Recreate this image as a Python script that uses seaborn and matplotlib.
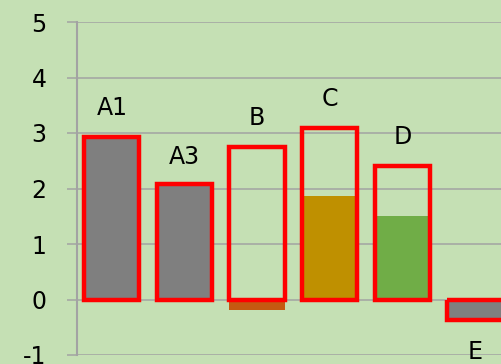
import matplotlib
matplotlib.use("Agg")
import matplotlib.pyplot as plt
import seaborn as sns

# bar data
categories = ['A1', 'A3', 'B', 'C', 'D', 'E']
outline_values = [2.93, 2.08, 2.75, 3.09, 2.40, -0.37]   # red outlined boxes
fill_values = [2.93, 2.08, -0.19, 1.87, 1.50, -0.37]     # inner filled bars
fill_colors = ['#7F7F7F', '#7F7F7F', '#C55A11', '#BF9000', '#70AD47', '#7F7F7F']
label_y = [3.45, 2.57, 3.27, 3.61, 2.93, -0.95]

bg = '#C5E0B4'
grid_col = '#A3A3A3'

sns.set_style("white")
plt.rcParams['font.family'] = ['DejaVu Sans']
plt.rcParams['axes.unicode_minus'] = False

fig = plt.figure(figsize=(5.01, 3.64), dpi=100, facecolor=bg)
ax = fig.add_axes([77 / 501, 9 / 364, 1 - 77 / 501, 333 / 364])
ax.set_facecolor(bg)

# filled bars first, outline on top
sns.barplot(x=categories, y=fill_values, hue=categories, palette=fill_colors,
            legend=False, width=0.76, saturation=1, linewidth=0, ax=ax, zorder=2)
sns.barplot(x=categories, y=outline_values, color='#FF0000', fill=False,
            width=0.76, linewidth=3.2, ax=ax, zorder=3)

for i, (cat, ly) in enumerate(zip(categories, label_y)):
    ax.text(i, ly, cat, ha='center', va='center', fontsize=17, color='black')

ax.set_xlim(-0.48, 5.36)
ax.set_ylim(-1, 5)
ax.set_yticks(range(-1, 6))
ax.set_xticks([])
ax.set_xlabel('')
ax.set_ylabel('')
ax.yaxis.grid(True, color=grid_col, linewidth=1.1)
ax.set_axisbelow(True)
ax.tick_params(axis='y', length=7, width=1.1, color=grid_col, pad=15,
               labelsize=17, labelcolor='black', left=True)
for side in ['top', 'right', 'bottom']:
    ax.spines[side].set_visible(False)
ax.spines['left'].set_color(grid_col)
ax.spines['left'].set_linewidth(1.5)

fig.savefig('out.png', dpi=100, facecolor=bg)
